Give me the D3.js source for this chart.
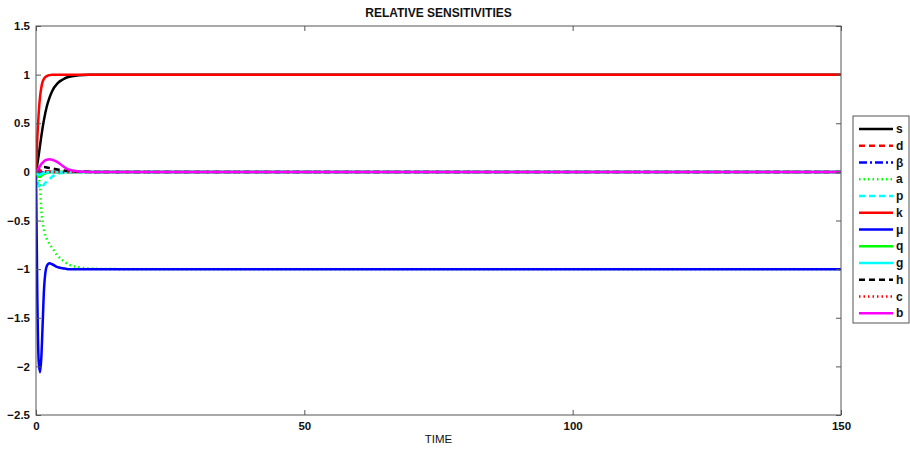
<!DOCTYPE html>
<html><head><meta charset="utf-8">
<script src="https://cdn.jsdelivr.net/npm/d3@7"></script>
<style>body{margin:0;background:#fff}svg{display:block}text{font-family:"Liberation Sans",Arial,sans-serif}</style>
</head><body><svg id="c" width="910" height="449"></svg>
<script>
const time = [0,0.25,0.5,0.75,1,1.25,1.5,2,2.5,3,4,5,6,8,10,15,150];
const sS  = [0,0.08,0.17,0.27,0.37,0.46,0.54,0.67,0.76,0.83,0.91,0.95,0.975,0.993,0.999,1,1];
const sD  = [0,0.01,0.015,0.015,0.012,0.01,0.008,0.005,0.003,0.002,0,0,0,0,0,0,0];
const sBeta = [0,-0.005,-0.01,-0.01,-0.008,-0.006,-0.005,-0.003,-0.002,-0.001,0,0,0,0,0,0,0];
const sA  = [0,-0.02,-0.06,-0.15,-0.4,-0.52,-0.6,-0.69,-0.74,-0.78,-0.86,-0.91,-0.95,-0.98,-0.995,-1,-1];
const sP  = [0,-0.08,-0.13,-0.16,-0.165,-0.15,-0.13,-0.1,-0.075,-0.05,-0.02,-0.01,0,0,0,0,0];
const sK  = [0,0.35,0.6,0.77,0.87,0.93,0.96,0.985,0.995,1,1,1,1,1,1,1,1];
const sMu = [0,-1.3,-1.95,-2.06,-1.9,-1.55,-1.2,-0.97,-0.94,-0.95,-0.98,-0.99,-1,-1,-1,-1,-1];
const sQ  = [0,-0.03,-0.05,-0.05,-0.04,-0.03,-0.02,-0.01,-0.005,0,0,0,0,0,0,0,0];
const sG  = [0,-0.02,-0.03,-0.03,-0.02,-0.015,-0.01,-0.005,0,0,0,0,0,0,0,0,0];
const sH  = [0,0.02,0.035,0.045,0.05,0.05,0.05,0.045,0.04,0.035,0.025,0.015,0.008,0.002,0,0,0];
const sC  = [0,0.005,0.01,0.01,0.008,0.006,0.005,0.003,0.002,0,0,0,0,0,0,0,0];
const sB  = [0,0.02,0.04,0.06,0.08,0.095,0.11,0.125,0.13,0.125,0.1,0.06,0.025,0.005,0,0,0];

const seriesNames = ["s","d","β","a","p","k","μ","q","g","h","c","b"];
const seriesValues = [sS,sD,sBeta,sA,sP,sK,sMu,sQ,sG,sH,sC,sB];
const seriesColors = ["#000000","#ff0000","#0000ff","#00ff00","#00ffff","#ff0000","#0000ff","#00ff00","#00ffff","#000000","#ff0000","#ff00ff"];
const seriesDash = ["none","6,4","8,3,2,3","1.5,3","6,4","none","none","none","none","6,4","1.5,3","none"];
const xTicks = [0,50,100,150];
const yTicks = [-2.5,-2,-1.5,-1,-0.5,0,0.5,1,1.5];
const titleText = "RELATIVE SENSITIVITIES";
const xLabel = "TIME";

const svg = d3.select("#c");
const L=36, R=841, T=26, B=415;
const x = d3.scaleLinear().domain([0,150]).range([L,R]);
const y = d3.scaleLinear().domain([-2.5,1.5]).range([B,T]);

svg.append("defs").append("clipPath").attr("id","cp").append("rect")
  .attr("x",L).attr("y",T).attr("width",R-L).attr("height",B-T);

const g = svg.append("g").attr("clip-path","url(#cp)");
const line = d3.line().x((d,i)=>x(time[i])).y(d=>y(d)).curve(d3.curveMonotoneX);
seriesValues.forEach((vals,i)=>{
  g.append("path").attr("d",line(vals)).attr("fill","none")
   .attr("stroke",seriesColors[i]).attr("stroke-width",2.5)
   .attr("stroke-dasharray",seriesDash[i]==="none"?null:seriesDash[i]);
});

svg.append("rect").attr("x",L).attr("y",T).attr("width",R-L).attr("height",B-T)
  .attr("fill","none").attr("stroke","#555").attr("stroke-width",1);

const axB = svg.append("g").attr("transform",`translate(0,${B})`)
  .call(d3.axisBottom(x).tickValues(xTicks).tickSize(-5).tickPadding(7).tickFormat(d3.format("d")));
const axT = svg.append("g").attr("transform",`translate(0,${T})`)
  .call(d3.axisTop(x).tickValues(xTicks).tickSize(-5).tickFormat(""));
const axL = svg.append("g").attr("transform",`translate(${L},0)`)
  .call(d3.axisLeft(y).tickValues(yTicks).tickSize(-5).tickPadding(6).tickFormat(d=>d3.format("")(d)));
const axR = svg.append("g").attr("transform",`translate(${R},0)`)
  .call(d3.axisRight(y).tickValues(yTicks).tickSize(-5).tickFormat(""));
[axB,axT,axL,axR].forEach(a=>{
  a.select(".domain").remove();
  a.selectAll("line").attr("stroke","#555");
  a.selectAll("text").attr("font-size",11.5).attr("font-weight","bold").attr("fill","#111");
});

svg.append("text").attr("x",(L+R)/2).attr("y",17).attr("text-anchor","middle")
  .attr("font-size",12).attr("font-weight","bold").attr("fill","#111").text(titleText);
svg.append("text").attr("x",(L+R)/2).attr("y",443).attr("text-anchor","middle")
  .attr("font-size",11.5).attr("fill","#111").text(xLabel);

const lg = svg.append("g");
lg.append("rect").attr("x",853).attr("y",116).attr("width",56).attr("height",207)
  .attr("fill","#fff").attr("stroke","#555");
seriesNames.forEach((n,i)=>{
  const yy = 129 + i*16.75;
  lg.append("line").attr("x1",859).attr("x2",893).attr("y1",yy).attr("y2",yy)
    .attr("stroke",seriesColors[i]).attr("stroke-width",2.5)
    .attr("stroke-dasharray",seriesDash[i]==="none"?null:seriesDash[i]);
  lg.append("text").attr("x",896).attr("y",yy+4).attr("font-size",12).attr("font-weight","bold")
    .attr("fill","#111").text(n);
});
</script></body></html>
